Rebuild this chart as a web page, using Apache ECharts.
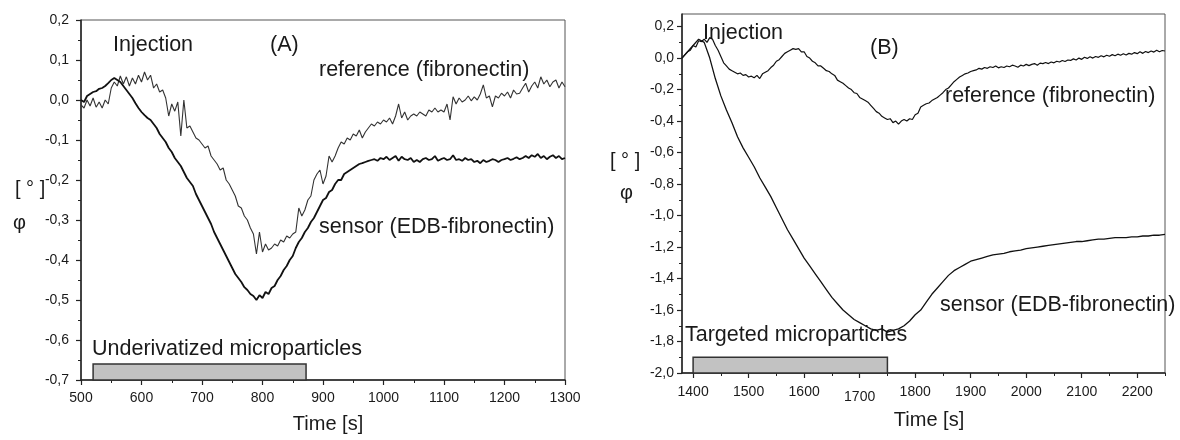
<!DOCTYPE html>
<html>
<head>
<meta charset="utf-8">
<script src="https://cdn.jsdelivr.net/npm/echarts@6/dist/echarts.min.js"></script>
<style>
html,body{margin:0;padding:0;background:#fff;}
#c{width:1180px;height:440px;}
</style>
</head>
<body>
<div id="c"></div>
<script>
// ---------- Panel A data (time 500..1300, step 5 s) ----------
const tA0 = 500, stepA = 5;
const sensorA = [
 0.0, -0.005, 0.01, 0.015, 0.02, 0.022, 0.028, 0.03, 0.035, 0.042, 0.05, 0.055, 0.05, 0.045, 0.035, 0.025, 0.015, 0.005, -0.008, -0.02,
 -0.03, -0.038, -0.045, -0.05, -0.06, -0.07, -0.085, -0.095, -0.105, -0.12, -0.13, -0.145, -0.155, -0.165, -0.18, -0.195, -0.205, -0.215, -0.235, -0.25,
 -0.265, -0.28, -0.295, -0.31, -0.33, -0.345, -0.36, -0.375, -0.39, -0.405, -0.42, -0.435, -0.445, -0.455, -0.468, -0.475, -0.485, -0.49, -0.5, -0.488,
 -0.495, -0.48, -0.485, -0.47, -0.465, -0.45, -0.44, -0.425, -0.415, -0.4, -0.39, -0.37, -0.355, -0.345, -0.33, -0.32, -0.305, -0.295, -0.28, -0.265,
 -0.25, -0.245, -0.23, -0.225, -0.21, -0.2, -0.2, -0.185, -0.18, -0.175, -0.17, -0.165, -0.16, -0.158, -0.155, -0.152, -0.15, -0.148, -0.152, -0.145,
 -0.148, -0.142, -0.15, -0.145, -0.14, -0.152, -0.142, -0.148, -0.15, -0.145, -0.155, -0.15, -0.155, -0.148, -0.145, -0.15, -0.148, -0.14, -0.152, -0.148,
 -0.145, -0.15, -0.148, -0.138, -0.15, -0.148, -0.152, -0.145, -0.15, -0.148, -0.155, -0.152, -0.158, -0.15, -0.155, -0.152, -0.148, -0.15, -0.155, -0.15,
 -0.148, -0.145, -0.15, -0.147, -0.143, -0.148, -0.145, -0.14, -0.145, -0.138, -0.142, -0.135, -0.145, -0.14, -0.148, -0.142, -0.138, -0.145, -0.14, -0.148,
 -0.145
];
const refA = [
 -0.012, -0.02, 0.0, -0.015, 0.005, -0.018, -0.005, -0.02, 0.0, -0.01, 0.03, 0.045, 0.035, 0.06, 0.04, 0.058, 0.035, 0.055, 0.04, 0.062,
 0.045, 0.07, 0.05, 0.062, 0.03, 0.04, 0.02, 0.025, 0.005, -0.04, -0.01, -0.028, -0.005, -0.09, 0.0, -0.07, -0.065, -0.08, -0.095, -0.1,
 -0.11, -0.12, -0.115, -0.14, -0.15, -0.16, -0.175, -0.17, -0.2, -0.21, -0.225, -0.24, -0.265, -0.27, -0.29, -0.3, -0.32, -0.335, -0.385, -0.33,
 -0.38, -0.36, -0.375, -0.37, -0.36, -0.365, -0.35, -0.355, -0.34, -0.345, -0.335, -0.33, -0.27, -0.29, -0.275, -0.25, -0.24, -0.2, -0.185, -0.175,
 -0.21, -0.19, -0.14, -0.155, -0.14, -0.12, -0.105, -0.11, -0.095, -0.1, -0.085, -0.09, -0.075, -0.095, -0.08, -0.07, -0.06, -0.065, -0.055, -0.06,
 -0.05, -0.055, -0.045, -0.06, -0.04, -0.01, -0.045, -0.03, -0.05, -0.04, -0.035, -0.04, -0.03, -0.035, -0.04, -0.025, -0.03, -0.02, -0.03, -0.025,
 -0.03, -0.01, -0.05, 0.008, -0.01, 0.005, -0.005, 0.0, 0.01, -0.002, 0.008, 0.0, 0.015, 0.038, 0.005, 0.01, -0.017, 0.01, 0.005, 0.017,
 0.01, 0.02, 0.005, 0.025, 0.015, 0.017, 0.03, 0.042, 0.02, 0.035, 0.045, 0.03, 0.058, 0.04, 0.05, 0.033, 0.045, 0.05, 0.03, 0.045,
 0.033
];
// injection bar A: [start time, end time, bottom, top]
const barA = [520, 872, -0.7, -0.66];
const ticksAX = [500, 600, 700, 800, 900, 1000, 1100, 1200, 1300];
const ticksAY = [-0.7, -0.6, -0.5, -0.4, -0.3, -0.2, -0.1, 0.0, 0.1, 0.2];

// ---------- Panel B data ----------
const tB0 = 1380, stepRefB = 5, stepSenB = 10;
const refB = [
 0.0, 0.02, 0.04, 0.05, 0.08, 0.07, 0.11, 0.105, 0.12, 0.1, 0.13, 0.12, 0.08, 0.05, 0.01, -0.03, -0.05, -0.07, -0.08, -0.09,
 -0.1, -0.095, -0.11, -0.105, -0.12, -0.115, -0.125, -0.11, -0.13, -0.1, -0.09, -0.08, -0.06, -0.045, -0.02, -0.01, 0.01, 0.03, 0.04, 0.05,
 0.06, 0.055, 0.06, 0.04, 0.04, 0.01, 0.0, -0.02, -0.03, -0.05, -0.05, -0.065, -0.08, -0.085, -0.1, -0.11, -0.14, -0.15, -0.16, -0.175,
 -0.19, -0.2, -0.22, -0.225, -0.25, -0.26, -0.27, -0.28, -0.3, -0.32, -0.34, -0.35, -0.37, -0.38, -0.39, -0.385, -0.41, -0.4, -0.42, -0.4,
 -0.39, -0.4, -0.385, -0.39, -0.36, -0.35, -0.31, -0.3, -0.29, -0.285, -0.27, -0.26, -0.25, -0.235, -0.22, -0.2, -0.19, -0.17, -0.15, -0.135,
 -0.12, -0.11, -0.1, -0.095, -0.085, -0.08, -0.075, -0.065, -0.07, -0.06, -0.065, -0.055, -0.06, -0.05, -0.062, -0.055, -0.06, -0.05, -0.055, -0.045,
 -0.05, -0.058, -0.045, -0.05, -0.04, -0.048, -0.04, -0.035, -0.045, -0.032, -0.035, -0.028, -0.035, -0.025, -0.03, -0.02, -0.025, -0.015, -0.022, -0.012,
 -0.015, -0.005, -0.012, 0.0, -0.008, 0.005, -0.002, 0.008, 0.0, 0.01, 0.005, 0.015, 0.008, 0.018, 0.012, 0.022, 0.015, 0.025, 0.018, 0.028,
 0.02, 0.03, 0.025, 0.035, 0.028, 0.04, 0.03, 0.042, 0.035, 0.045, 0.038, 0.05, 0.04, 0.048, 0.045
];
const sensorB = [
 0.0, 0.04, 0.08, 0.12, 0.1, 0.0, -0.13, -0.24, -0.33, -0.41,
 -0.5, -0.57, -0.63, -0.69, -0.76, -0.82, -0.88, -0.95, -1.02, -1.09,
 -1.15, -1.21, -1.27, -1.32, -1.37, -1.42, -1.47, -1.52, -1.56, -1.6,
 -1.63, -1.66, -1.68, -1.7, -1.72, -1.73, -1.72, -1.74, -1.73, -1.72,
 -1.7, -1.67, -1.63, -1.6, -1.55, -1.5, -1.46, -1.42, -1.38, -1.35,
 -1.33, -1.31, -1.29, -1.28, -1.27, -1.26, -1.25, -1.245, -1.24, -1.23,
 -1.225, -1.22, -1.21, -1.205, -1.2, -1.195, -1.19, -1.185, -1.18, -1.175,
 -1.17, -1.165, -1.165, -1.16, -1.155, -1.15, -1.15, -1.145, -1.14, -1.14,
 -1.14, -1.135, -1.135, -1.13, -1.13, -1.125, -1.125, -1.12
];
const barB = [1400, 1750, -2.0, -1.9];
const ticksBX = [1400, 1500, 1600, 1700, 1800, 1900, 2000, 2100, 2200];
const ticksBY = [-2.0, -1.8, -1.6, -1.4, -1.2, -1.0, -0.8, -0.6, -0.4, -0.2, 0.0, 0.2];

// ---------- helpers ----------
function pairs(t0, step, vals){ return vals.map((v,i)=>[t0+i*step, v]); }
function mids(arr){ const r=[]; for(let i=0;i<arr.length-1;i++) r.push((arr[i]+arr[i+1])/2); return r; }
const comma = v => (Math.round(v*10)/10).toFixed(1).replace('.', ',');
const FONT = 'Liberation Sans, Arial, sans-serif';
const AX = '#222';

function mainX(gi, min, max, ticks, low, margin){
  return {type:'value', gridIndex:gi, min:min, max:max, position:'bottom',
    axisLine:{show:true, onZero:false, lineStyle:{color:AX, width:1.5}},
    axisTick:{show:true, inside:false, length:5, customValues:ticks, lineStyle:{color:AX, width:1.2}},
    axisLabel:{show:true, customValues:ticks, margin:margin, fontFamily:FONT, fontSize:14, color:'#1a1a1a',
      formatter: v => (low && v===low) ? '{lo|'+v+'}' : String(v),
      rich:{lo:{fontFamily:FONT, fontSize:14, color:'#1a1a1a', padding:[5,0,0,0]}}},
    splitLine:{show:false}};
}
function minorX(gi, min, max, ticks){
  return {type:'value', gridIndex:gi, min:min, max:max, position:'bottom',
    axisLine:{show:false, onZero:false}, axisLabel:{show:false}, splitLine:{show:false},
    axisTick:{show:true, length:3, customValues:mids(ticks), lineStyle:{color:AX, width:1}}};
}
function mainY(gi, min, max, ticks, margin){
  return {type:'value', gridIndex:gi, min:min, max:max, position:'left',
    axisLine:{show:true, onZero:false, lineStyle:{color:AX, width:1.5}},
    axisTick:{show:true, length:5, customValues:ticks, lineStyle:{color:AX, width:1.2}},
    axisLabel:{show:true, customValues:ticks, margin:margin, fontFamily:FONT, fontSize:14, color:'#1a1a1a', formatter: comma},
    splitLine:{show:false}};
}
function minorY(gi, min, max, ticks){
  return {type:'value', gridIndex:gi, min:min, max:max, position:'left',
    axisLine:{show:false, onZero:false}, axisLabel:{show:false}, splitLine:{show:false},
    axisTick:{show:true, length:3, customValues:mids(ticks), lineStyle:{color:AX, width:1}}};
}

const barStyle = {color:'#c2c2c2', borderColor:'#333', borderWidth:1.5};
function barArea(b){
  return {silent:true, itemStyle:barStyle, label:{show:false},
    data:[[{xAxis:b[0], yAxis:b[2]}, {xAxis:b[1], yAxis:b[3]}]]};
}

const txt = (x, y, s, size, align) => ({type:'text', x:x, y:y, silent:true,
  style:{text:s, fontFamily:FONT, fontSize:size||21.5, fill:'#1a1a1a', align:align||'left', verticalAlign:'middle'}});

const chart = echarts.init(document.getElementById('c'), null, {renderer:'canvas'});
chart.setOption({
  animation:false,
  backgroundColor:'#fff',
  grid:[
    {left:81, top:20, width:484, height:360, show:true, borderColor:'#555', borderWidth:1, containLabel:false, outerBoundsMode:'none'},
    {left:682, top:14, width:483, height:359, show:true, borderColor:'#555', borderWidth:1, containLabel:false, outerBoundsMode:'none'}
  ],
  xAxis:[
    mainX(0, 500, 1300, ticksAX, null, 11),
    minorX(0, 500, 1300, ticksAX),
    mainX(1, 1380, 2250, ticksBX, 1700, 12),
    minorX(1, 1380, 2250, ticksBX.concat([2300]))
  ],
  yAxis:[
    mainY(0, -0.7, 0.2, ticksAY, 12),
    minorY(0, -0.7, 0.2, ticksAY),
    mainY(1, -2.0, 0.28, ticksBY, 8),
    minorY(1, -2.0, 0.28, ticksBY)
  ],
  series:[
    {type:'line', xAxisIndex:0, yAxisIndex:0, data:[], markArea:barArea(barA), z:1},
    {type:'line', xAxisIndex:0, yAxisIndex:0, data:pairs(tA0, stepA, refA), showSymbol:false, symbol:'none',
      lineStyle:{color:'#333', width:1.1}, z:2},
    {type:'line', xAxisIndex:0, yAxisIndex:0, data:pairs(tA0, stepA, sensorA), showSymbol:false, symbol:'none',
      lineStyle:{color:'#111', width:1.8}, z:3},
    {type:'line', xAxisIndex:2, yAxisIndex:2, data:[], markArea:barArea(barB), z:1},
    {type:'line', xAxisIndex:2, yAxisIndex:2, data:pairs(tB0, stepRefB, refB), showSymbol:false, symbol:'none',
      lineStyle:{color:'#111', width:1.2}, z:2},
    {type:'line', xAxisIndex:2, yAxisIndex:2, data:pairs(tB0, stepSenB, sensorB), showSymbol:false, symbol:'none',
      lineStyle:{color:'#111', width:1.3}, z:3}
  ],
  graphic:[
    txt(113, 45, 'Injection'),
    txt(270, 45, '(A)'),
    txt(319, 70, 'reference (fibronectin)'),
    txt(319, 227, 'sensor (EDB-fibronectin)'),
    txt(92, 349, 'Underivatized microparticles'),
    txt(328, 424, 'Time [s]', 20, 'center'),
    txt(15, 189, '[ ° ]', 20),
    txt(13, 223, 'φ', 20),
    txt(703, 33, 'Injection'),
    txt(870, 48, '(B)'),
    txt(945, 96, 'reference (fibronectin)'),
    txt(940, 305, 'sensor (EDB-fibronectin)'),
    txt(685, 335, 'Targeted microparticles'),
    txt(929, 420, 'Time [s]', 20, 'center'),
    txt(610, 161, '[ ° ]', 20),
    txt(620, 193, 'φ', 20)
  ]
});
</script>
</body>
</html>
